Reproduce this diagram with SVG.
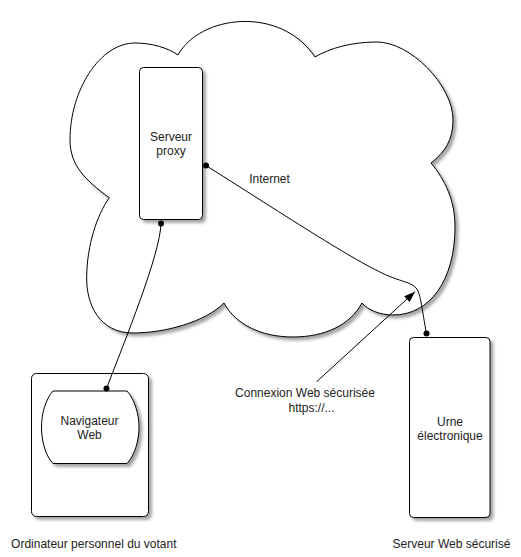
<svg xmlns="http://www.w3.org/2000/svg" width="521" height="557" viewBox="0 0 521 557">
  <defs>
    <filter id="shadow" x="-10%" y="-10%" width="130%" height="130%">
      <feDropShadow dx="3" dy="3" stdDeviation="1.5" flood-color="#000" flood-opacity="0.35"/>
    </filter>
    <marker id="arrow" viewBox="0 0 11 8" refX="11" refY="4" markerWidth="11" markerHeight="8" markerUnits="userSpaceOnUse" orient="auto">
      <path d="M0,0 L11,4 L0,8 Z" fill="#000"/>
    </marker>
  </defs>
  <style>
    .shape { fill: #fff; stroke: #000; stroke-width: 1; filter: url(#shadow); }
    .conn { fill: none; stroke: #000; stroke-width: 1; }
    .dot { fill: #000; }
    text { font-family: "Liberation Sans", Arial, sans-serif; font-size: 12px; fill: #222; text-anchor: middle; }
  </style>
  <rect width="521" height="557" fill="#fff"/>

  <g id="internet">
    <path class="shape" d="M178,55 C200,15 280,5 315,57 C330,48 352,42 377,42 C410,42 453,85 453,120 C453,140 445,152 431,163 C445,180 455,200 455,227 C455,280 430,315 393,315 C380,315 368,310 362,303 C350,325 325,337 293,337 C262,337 236,325 224,303 C205,322 165,333 133,333 C100,333 86,305 86.7,276.7 C87,245 97,215 109.3,197.7 C85,180 70,165 70,140 C70,90 100,43 135,43 C152,43 168,48 178,55 Z"/>
    <text x="269.5" y="182.5">Internet</text>
  </g>

  <g id="proxy">
    <rect class="shape" x="139.5" y="67.5" width="63" height="152" rx="4"/>
    <text x="171" y="141">Serveur</text>
    <text x="171" y="155">proxy</text>
  </g>

  <g id="ordinateur">
    <rect class="shape" x="31.5" y="373.5" width="117" height="143" rx="5"/>
    <text x="93.8" y="547.5">Ordinateur personnel du votant</text>
  </g>

  <g id="navigateur">
    <path class="shape" d="M53,391 L127,391 C135,400 139,415 139,427 C139,440 135,455 127,463.5 L53,463.5 C45,455 41.5,440 41.5,427 C41.5,415 45,400 53,391 Z"/>
    <text x="89.5" y="425">Navigateur</text>
    <text x="89.5" y="439">Web</text>
  </g>

  <g id="urne">
    <rect class="shape" x="409.5" y="337.5" width="80.5" height="180" rx="4"/>
    <text x="450" y="425.5">Urne</text>
    <text x="450" y="439.5">électronique</text>
    <text x="451.5" y="547.5">Serveur Web sécurisé</text>
  </g>

  <g id="connectors">
    <path class="conn" d="M206,165.5 C300,225 365,268 395,278.5 C408,283 414,284 417.5,290 C421,297 422,310 426.5,333.5"/>
    <path class="conn" d="M161,223.5 C160,255 125,340 106.5,388.5"/>
    <path class="conn" d="M316.7,381.7 L415,291.7" marker-end="url(#arrow)"/>
    <circle class="dot" cx="206" cy="165.5" r="3"/>
    <circle class="dot" cx="426.5" cy="333.5" r="3"/>
    <circle class="dot" cx="161" cy="223.5" r="3"/>
    <circle class="dot" cx="106.5" cy="388.5" r="3"/>
    <text x="305" y="396.5">Connexion Web sécurisée</text>
    <text x="311.5" y="412">https://...</text>
  </g>
</svg>
